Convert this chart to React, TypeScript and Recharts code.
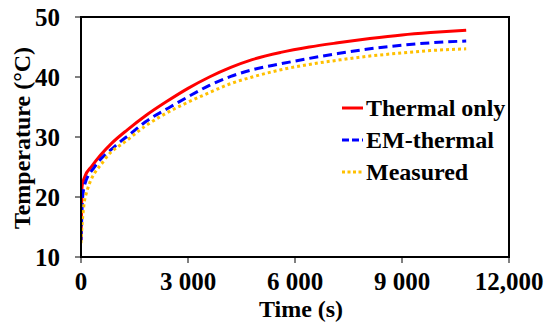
import React from 'react';
import { LineChart, Line, XAxis, YAxis, ReferenceArea, Legend } from 'recharts';

const thermalTime = [0, 15, 30, 100, 300, 550, 850, 1300, 1800, 2400, 3000, 3600, 4200, 4800, 5600, 6400, 7200, 8100, 9000, 9800, 10800];
const thermalTemp = [12.8, 18, 21.8, 23.3, 25.1, 27.0, 28.9, 31.2, 33.5, 35.9, 38.1, 40.0, 41.6, 42.9, 44.1, 45.0, 45.7, 46.4, 47.0, 47.4, 47.8];

const emTime = [0, 15, 40, 100, 380, 940, 1400, 1800, 2500, 3000, 3600, 4200, 4800, 5600, 6400, 7200, 8100, 9000, 9800, 10800];
const emTemp = [12.8, 15.5, 19.5, 22.0, 25.0, 28.4, 30.6, 32.5, 35.0, 36.7, 38.6, 40.1, 41.2, 42.2, 43.1, 43.9, 44.7, 45.3, 45.7, 46.0];

const measTime = [0, 20, 60, 120, 660, 1300, 1800, 2250, 3000, 3600, 4200, 4800, 5600, 6400, 7200, 8100, 9000, 9800, 10800];
const measTemp = [12.3, 14.5, 17.5, 20.0, 26.2, 29.5, 31.8, 33.5, 35.8, 37.4, 38.9, 40.0, 41.2, 42.1, 42.8, 43.5, 44.0, 44.4, 44.7];

const xTicks = [0, 3000, 6000, 9000, 12000];
const xTickLabels = ['0', '3 000', '6 000', '9 000', '12,000'];
const yTicks = [10, 20, 30, 40, 50];

const seriesNames = ['Thermal only', 'EM-thermal', 'Measured'];
const seriesColors = ['#FF0000', '#0000FF', '#FFC000'];
const seriesDash = ['', '9 5', '3 3'];
const legendDash = ['', '7 3', '3 2.5'];

const toData = (ts: number[], vs: number[]) => ts.map((t, i) => ({ t, v: vs[i] }));
const thermalData = toData(thermalTime, thermalTemp);
const emData = toData(emTime, emTemp);
const measData = toData(measTime, measTemp);
const allData = [thermalData, emData, measData];

const FONT = "'Liberation Serif', Tinos, 'DejaVu Serif', serif";

const tickStyle = { fontFamily: FONT, fontSize: 25, fontWeight: 'bold', fill: '#000' };

const YLabel = (props: any) => {
  const vb = props.viewBox || {};
  const cx = 30;
  const cy = (vb.y ?? 17) + (vb.height ?? 240) / 2 + 1;
  return (
    <text
      x={cx}
      y={cy}
      transform={`rotate(-90 ${cx} ${cy})`}
      textAnchor="middle"
      style={{ fontFamily: FONT, fontSize: 24, fontWeight: 'bold' }}
      fill="#000"
    >
      Temperature (°C)
    </text>
  );
};

const XLabel = (props: any) => {
  const vb = props.viewBox || {};
  const cx = (vb.x ?? 81) + (vb.width ?? 428) / 2 + 6;
  const cy = 317;
  return (
    <text
      x={cx}
      y={cy}
      textAnchor="middle"
      style={{ fontFamily: FONT, fontSize: 24, fontWeight: 'bold' }}
      fill="#000"
    >
      Time (s)
    </text>
  );
};

const renderLegend = () => (
  <div style={{ display: 'flex', flexDirection: 'column' }}>
    {seriesNames.map((name, i) => (
      <div key={name} style={{ display: 'flex', alignItems: 'center', height: 32 }}>
        <svg width={26} height={10} style={{ display: 'block' }}>
          <line
            x1={2}
            y1={5}
            x2={23}
            y2={5}
            stroke={seriesColors[i]}
            strokeWidth={3}
            strokeDasharray={legendDash[i] || undefined}
          />
        </svg>
        <span
          style={{
            fontFamily: FONT,
            fontSize: 24,
            fontWeight: 'bold',
            color: '#000',
            lineHeight: '32px',
            whiteSpace: 'nowrap',
          }}
        >
          {name}
        </span>
      </div>
    ))}
  </div>
);

export default function App() {
  return (
    <div style={{ position: 'absolute', left: 0, top: 0, width: 550, height: 332, background: '#fff' }}>
      <LineChart width={550} height={332} margin={{ top: 17, right: 41, bottom: 0, left: 0 }}>
        <XAxis
          type="number"
          dataKey="t"
          domain={[0, 12000]}
          ticks={xTicks}
          tickFormatter={(v: number) => xTickLabels[xTicks.indexOf(v)] ?? String(v)}
          height={75}
          tick={tickStyle}
          tickSize={6}
          tickMargin={9}
          axisLine={{ stroke: '#000', strokeWidth: 2 }}
          tickLine={{ stroke: '#000', strokeWidth: 1 }}
          interval={0}
          allowDataOverflow
          label={<XLabel />}
        />
        <YAxis
          type="number"
          domain={[10, 50]}
          ticks={yTicks}
          width={81}
          tick={tickStyle}
          tickSize={6}
          tickMargin={15}
          axisLine={{ stroke: '#000', strokeWidth: 2 }}
          tickLine={{ stroke: '#000', strokeWidth: 1 }}
          interval={0}
          allowDataOverflow
          label={<YLabel />}
        />
        <ReferenceArea x1={0} x2={12000} y1={10} y2={50} fill="none" fillOpacity={0} stroke="#000" strokeWidth={2} ifOverflow="visible" />
        {allData.map((d, i) => (
          <Line
            key={seriesNames[i]}
            data={d}
            dataKey="v"
            name={seriesNames[i]}
            type="monotone"
            stroke={seriesColors[i]}
            strokeWidth={3}
            strokeDasharray={seriesDash[i] || undefined}
            dot={false}
            activeDot={false}
            isAnimationActive={false}
          />
        ))}
        <Legend
          layout="horizontal"
          verticalAlign="middle"
          align="center"
          content={renderLegend}
          wrapperStyle={{ position: 'absolute', left: 340, top: 92, width: 200, height: 96 }}
        />
      </LineChart>
    </div>
  );
}
